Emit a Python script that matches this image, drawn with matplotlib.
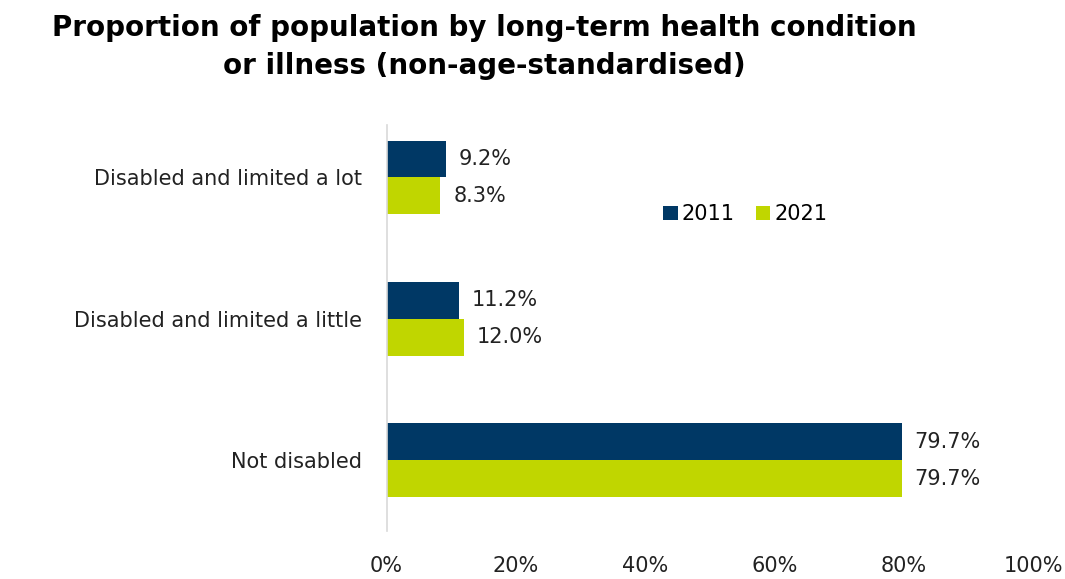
import matplotlib
matplotlib.use("Agg")
import matplotlib.pyplot as plt
import numpy as np

# ==============================
# Data
# ==============================
categories = ["Disabled and limited a lot", "Disabled and limited a little", "Not disabled"]
values_2011 = [9.2, 11.2, 79.7]
values_2021 = [8.3, 12.0, 79.7]
series_names = ["2011", "2021"]
xticks = [0, 20, 40, 60, 80, 100]

colors = ["#003865", "#C0D600"]

# ==============================
# Plot
# ==============================
fig = plt.figure(figsize=(10.65, 5.79), dpi=100)
ax = fig.add_axes([0.363, 0.083, 0.607, 0.701])

y = np.arange(len(categories))
h = 0.26
b1 = ax.barh(y - h / 2, values_2011, height=h, color=colors[0], label=series_names[0])
b2 = ax.barh(y + h / 2, values_2021, height=h, color=colors[1], label=series_names[1])

for bars, vals in [(b1, values_2011), (b2, values_2021)]:
    for bar, v in zip(bars, vals):
        ax.text(v + 2.0, bar.get_y() + bar.get_height() / 2, f"{v:.1f}%",
                va="center", ha="left", fontsize=15, color="#222222")

ax.set_xlim(0, 100)
ax.set_ylim(2.5, -0.37)
ax.set_yticks(y)
ax.set_yticklabels(categories, fontsize=15, color="#222222")
ax.set_xticks(xticks)
ax.set_xticklabels([f"{t}%" for t in xticks], fontsize=15, color="#222222")
ax.tick_params(axis="both", length=0)
ax.tick_params(axis="x", pad=18)
ax.tick_params(axis="y", pad=18)

for s in ["top", "right", "bottom"]:
    ax.spines[s].set_visible(False)
ax.spines["left"].set_color("#d9d9d9")
ax.spines["left"].set_linewidth(1.2)

ax.legend(loc="center", bbox_to_anchor=(0.555, 0.78), ncol=2, frameon=False,
          fontsize=15, handlelength=0.7, handleheight=0.7, handletextpad=0.2,
          columnspacing=1.0)

fig.text(0.455, 0.975, "Proportion of population by long-term health condition\nor illness (non-age-standardised)",
         ha="center", va="top", fontsize=20, fontweight="bold", linespacing=1.45)

fig.savefig("out.png", dpi=100)
